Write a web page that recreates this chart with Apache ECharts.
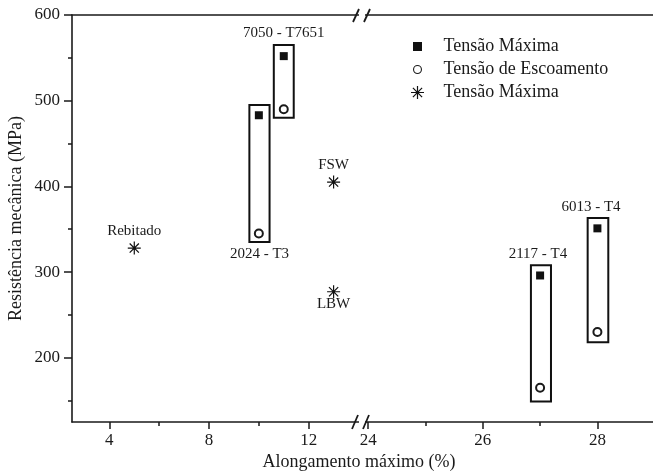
<!DOCTYPE html>
<html>
<head>
<meta charset="utf-8">
<script src="https://cdn.jsdelivr.net/npm/echarts@6/dist/echarts.min.js"></script>
<style>html,body{margin:0;padding:0;background:#fff}#c{width:653px;height:473px}</style>
</head>
<body>
<div id="c"></div>
<script>
// ---- data ----
const xLeftTicks = [4, 8, 12];
const xLeftMinor = [6, 10];
const xRightTicks = [24, 26, 28];
const xRightMinor = [25, 27];
const yTicks = [200, 300, 400, 500, 600];
const yMinor = [150, 250, 350, 450, 550];

const leftMax = [[10, 483], [11, 552]];
const leftYield = [[10, 345], [11, 490]];
const rightMax = [[27, 296], [28, 351]];
const rightYield = [[27, 165], [28, 230]];

const jointNames = ['Rebitado', 'FSW', 'LBW'];
const jointX = [5, 13, 13];
const jointY = [328, 405, 277];

const alloyLeftNames = ['2024 - T3', '7050 - T7651'];
const alloyLeftBoxes = [[9.62, 10.43, 335, 495], [10.6, 11.4, 480, 565]];
const alloyRightNames = ['2117 - T4', '6013 - T4'];
const alloyRightBoxes = [[26.84, 27.19, 149, 308], [27.83, 28.19, 218, 363]];

const legendNames = ['Tensão Máxima', 'Tensão de Escoamento', 'Tensão Máxima '];
const xTitle = 'Alongamento máximo (%)';
const yTitle = 'Resistência mecânica (MPa)';

// ---- styling ----
const FONT = 'Liberation Serif';
const INK = '#1a1a1a';

function starPath(size, w) {
  const c = size / 2, L = size / 2;
  let p = '';
  [0, 45, 90, 135].forEach(a => {
    const r = a * Math.PI / 180;
    const dx = Math.cos(r), dy = Math.sin(r), nx = -dy, ny = dx;
    const pts = [
      [c + L * dx + w * nx, c + L * dy + w * ny],
      [c - L * dx + w * nx, c - L * dy + w * ny],
      [c - L * dx - w * nx, c - L * dy - w * ny],
      [c + L * dx - w * nx, c + L * dy - w * ny]
    ];
    p += 'M' + pts.map(q => q[0].toFixed(3) + ' ' + q[1].toFixed(3)).join(' L') + ' Z ';
  });
  return 'path://' + p;
}
const STAR = starPath(14, 0.65);
// legend icons: invisible moveTo points pad the bounding box
const LEG_SQUARE = 'path://M0 0 M13 13 M2 2 L11 2 L11 11 L2 11 Z';
const LEG_CIRCLE = 'path://M0 0 M13 13 M6.5 2 A4.5 4.5 0 0 1 6.5 11 A4.5 4.5 0 0 1 6.5 2 Z M6.5 3.1 A3.4 3.4 0 0 0 6.5 9.9 A3.4 3.4 0 0 0 6.5 3.1 Z';

const YMIN = 125, YMAX = 600;
const XL = [2.5, 14.1], XR = [23.91, 28.97];

function majorX(gridIndex, range, ticks) {
  return {
    type: 'value', gridIndex, position: 'bottom', min: range[0], max: range[1],
    axisLine: { show: true, onZero: false, lineStyle: { color: INK, width: 1.6 } },
    axisTick: { show: true, customValues: ticks, length: 7, lineStyle: { color: INK, width: 1.5 } },
    axisLabel: { show: true, customValues: ticks, margin: 10, color: INK, fontFamily: FONT, fontSize: 17 },
    splitLine: { show: false }
  };
}
function minorX(gridIndex, range, ticks) {
  return {
    type: 'value', gridIndex, position: 'bottom', min: range[0], max: range[1],
    axisLine: { show: false, onZero: false },
    axisTick: { show: true, customValues: ticks, length: 4, lineStyle: { color: INK, width: 1.5 } },
    axisLabel: { show: false }, splitLine: { show: false }
  };
}
function topX(gridIndex, range) {
  return {
    type: 'value', gridIndex, position: 'top', min: range[0], max: range[1],
    axisLine: { show: true, onZero: false, lineStyle: { color: INK, width: 1.6 } },
    axisTick: { show: false }, axisLabel: { show: false }, splitLine: { show: false }
  };
}

const boxStyle = { color: 'rgba(0,0,0,0)', borderColor: '#111', borderWidth: 2, opacity: 1 };
const alloyLabel = { show: true, color: INK, fontFamily: FONT, fontSize: 15, distance: 3 };

function boxesData(names, boxes, positions, offsets) {
  return boxes.map((b, i) => [
    { name: names[i], coord: [b[0], b[3]], label: { position: positions[i], offset: offsets[i] } },
    { coord: [b[1], b[2]] }
  ]);
}

const option = {
  animation: false,
  backgroundColor: '#fff',
  grid: [
    { left: 72, top: 15, width: 289, height: 407 },
    { left: 363, top: 15, width: 290, height: 407 }
  ],
  xAxis: [
    majorX(0, XL, xLeftTicks), minorX(0, XL, xLeftMinor), topX(0, XL),
    majorX(1, XR, xRightTicks), minorX(1, XR, xRightMinor), topX(1, XR)
  ],
  yAxis: [
    {
      type: 'value', gridIndex: 0, position: 'left', min: YMIN, max: YMAX,
      name: yTitle, nameLocation: 'middle', nameRotate: 90, nameGap: 47,
      nameTextStyle: { color: INK, fontFamily: FONT, fontSize: 18 },
      axisLine: { show: true, onZero: false, lineStyle: { color: INK, width: 1.6 } },
      axisTick: { show: true, customValues: yTicks, length: 8, lineStyle: { color: INK, width: 1.5 } },
      axisLabel: { show: true, customValues: yTicks, margin: 12, color: INK, fontFamily: FONT, fontSize: 17 },
      splitLine: { show: false }
    },
    {
      type: 'value', gridIndex: 0, position: 'left', min: YMIN, max: YMAX,
      axisLine: { show: false, onZero: false },
      axisTick: { show: true, customValues: yMinor, length: 4, lineStyle: { color: INK, width: 1.5 } },
      axisLabel: { show: false }, splitLine: { show: false }
    },
    {
      type: 'value', gridIndex: 1, min: YMIN, max: YMAX, show: false, splitLine: { show: false }
    }
  ],
  legend: {
    orient: 'vertical', left: 406, top: 31,
    itemWidth: 36, itemHeight: 13, itemGap: 2,
    data: [
      { name: legendNames[0], icon: LEG_SQUARE },
      { name: legendNames[1], icon: LEG_CIRCLE },
      { name: legendNames[2], icon: STAR }
    ],
    formatter: n => n.trim(),
    itemStyle: { borderWidth: 0 },
    textStyle: { color: INK, fontFamily: FONT, fontSize: 18, lineHeight: 21, padding: [0, 0, 0, 3] }
  },
  series: [
    {
      name: legendNames[0], type: 'scatter', xAxisIndex: 0, yAxisIndex: 0,
      symbol: 'rect', symbolSize: 8, itemStyle: { color: '#111', opacity: 1 }, data: leftMax,
      markArea: {
        silent: true, itemStyle: boxStyle, label: alloyLabel,
        data: boxesData(alloyLeftNames, alloyLeftBoxes, ['bottom', 'top'], [[0, 0], [0, 0]])
      }
    },
    {
      name: legendNames[1], type: 'scatter', xAxisIndex: 0, yAxisIndex: 0,
      symbol: 'emptyCircle', symbolSize: 8, itemStyle: { color: INK, borderWidth: 1, opacity: 1 }, data: leftYield
    },
    {
      name: legendNames[0], type: 'scatter', xAxisIndex: 3, yAxisIndex: 2,
      symbol: 'rect', symbolSize: 8, itemStyle: { color: '#111', opacity: 1 }, data: rightMax,
      markArea: {
        silent: true, itemStyle: boxStyle, label: alloyLabel,
        data: boxesData(alloyRightNames, alloyRightBoxes, ['top', 'top'], [[-3, 0], [-7, 0]])
      }
    },
    {
      name: legendNames[1], type: 'scatter', xAxisIndex: 3, yAxisIndex: 2,
      symbol: 'emptyCircle', symbolSize: 8, itemStyle: { color: INK, borderWidth: 1, opacity: 1 }, data: rightYield
    },
    {
      name: legendNames[2], type: 'scatter', xAxisIndex: 0, yAxisIndex: 0,
      symbol: STAR, symbolSize: 13, itemStyle: { color: '#111', opacity: 1 },
      data: jointNames.map((n, i) => ({
        name: n, value: [jointX[i], jointY[i]],
        label: { show: true, formatter: '{b}', position: i === 2 ? 'bottom' : 'top', distance: i === 2 ? -2 : 3,
          color: INK, fontFamily: FONT, fontSize: 15 }
      }))
    }
  ],
  graphic: [
    { type: 'text', x: 359, y: 462, style: { text: xTitle, fill: INK, font: '18px "Liberation Serif"', textAlign: 'center', textVerticalAlign: 'middle' } },
    // axis break marks
    { type: 'rect', shape: { x: 359, y: 8, width: 6, height: 14 }, style: { fill: '#fff' }, z: 100 },
    { type: 'rect', shape: { x: 359, y: 414, width: 6, height: 14 }, style: { fill: '#fff' }, z: 100 },
    { type: 'line', shape: { x1: 353, y1: 22, x2: 359, y2: 9 }, style: { stroke: INK, lineWidth: 1.8 }, z: 101 },
    { type: 'line', shape: { x1: 364, y1: 22, x2: 370, y2: 9 }, style: { stroke: INK, lineWidth: 1.8 }, z: 101 },
    { type: 'line', shape: { x1: 352, y1: 429, x2: 358, y2: 415 }, style: { stroke: INK, lineWidth: 1.8 }, z: 101 },
    { type: 'line', shape: { x1: 363, y1: 429, x2: 369, y2: 415 }, style: { stroke: INK, lineWidth: 1.8 }, z: 101 }
  ]
};

const chart = echarts.init(document.getElementById('c'), null, { renderer: 'canvas' });
chart.setOption(option);
</script>
</body>
</html>
